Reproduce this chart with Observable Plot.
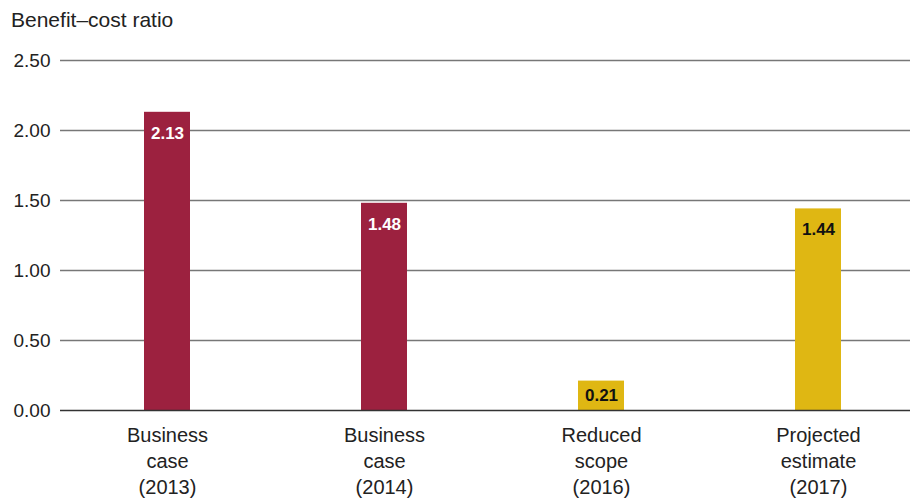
<!DOCTYPE html>
<html><head><meta charset="utf-8">
<script src="https://cdn.jsdelivr.net/npm/d3@7"></script>
<script src="https://cdn.jsdelivr.net/npm/@observablehq/plot@0.6"></script>
<style>
body{margin:0;background:#fff;font-family:"Liberation Sans",Arial,sans-serif;}
#title{height:40px;line-height:40px;font-size:21px;color:#222;padding-left:11px;box-sizing:border-box;}
</style></head><body>
<div id="title">Benefit–cost ratio</div>
<div id="chart"></div>
<script>
const categories = ["Business\ncase\n(2013)", "Business\ncase\n(2014)", "Reduced\nscope\n(2016)", "Projected\nestimate\n(2017)"];
const values = [2.13, 1.48, 0.21, 1.44];
const groups = ["business", "business", "revised", "revised"];
const yTicks = [0, 0.5, 1, 1.5, 2, 2.5];

const data = categories.map((c, i) => ({cat: c, value: values[i], group: groups[i]}));
const fill = d => d.group === "business" ? "#9c213f" : "#dfb713";
const textColor = d => d.group === "business" ? "#ffffff" : "#111111";
// label sits just below the bar top, or mid-bar when the bar is short
const labelY = d => Math.max(d.value - 0.15, d.value / 2);

const plot = Plot.plot({
  width: 910,
  height: 459,
  marginTop: 20,
  marginBottom: 89,
  marginLeft: 60,
  marginRight: 0,
  style: {fontFamily: "Liberation Sans, Arial, sans-serif", background: "#fff"},
  x: {domain: categories, range: [57.3, 926.7], paddingInner: 0.79, paddingOuter: 0.395, label: null},
  y: {domain: [0, 2.5], label: null},
  marks: [
    Plot.ruleY(yTicks.filter(t => t > 0), {stroke: "#777", strokeWidth: 1.4}),
    Plot.barY(data, {x: "cat", y: "value", fill: fill}),
    Plot.ruleY([0], {stroke: "#333", strokeWidth: 1.4}),
    Plot.text(data, {x: "cat", y: labelY, text: d => d.value.toFixed(2), fill: textColor,
      fontSize: 17, fontWeight: "bold"}),
    Plot.axisY({ticks: yTicks, tickFormat: d3.format(".2f"), tickSize: 0, tickPadding: 10,
      fontSize: 19, label: null, fill: "#222"}),
    Plot.axisX({tickSize: 0, tickPadding: 13, fontSize: 20, lineHeight: 1.3, label: null, fill: "#222"})
  ]
});
document.getElementById("chart").appendChild(plot);
</script></body></html>
